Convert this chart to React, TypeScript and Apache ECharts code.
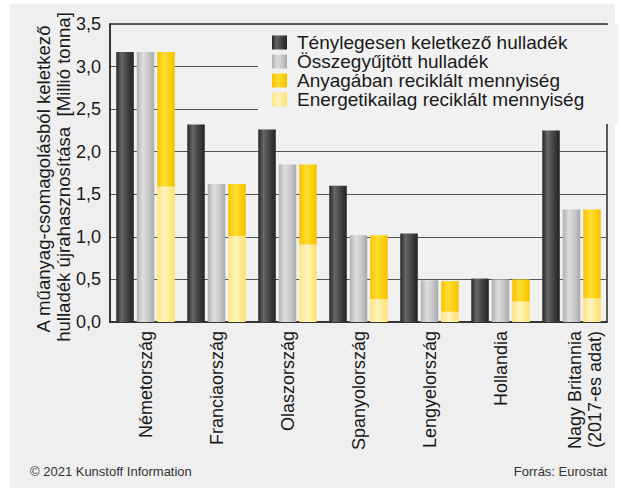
import React, { useEffect, useRef } from 'react';
import * as echarts from 'echarts';

const categories = [
  'Németország',
  'Franciaország',
  'Olaszország',
  'Spanyolország',
  'Lengyelország',
  'Hollandia',
  'Nagy Britannia\n(2017-es adat)',
];
const seriesNames = [
  'Ténylegesen keletkező hulladék',
  'Összegyűjtött hulladék',
  'Anyagában reciklált mennyiség',
  'Energetikailag reciklált mennyiség',
];
const generated = [3.17, 2.32, 2.26, 1.6, 1.04, 0.51, 2.25];
const collected = [3.17, 1.62, 1.85, 1.02, 0.49, 0.5, 1.32];
const materialRecycled = [1.58, 0.61, 0.94, 0.75, 0.36, 0.26, 1.04];
const energyRecycled = [1.59, 1.01, 0.91, 0.27, 0.12, 0.24, 0.28];
const yMin = 0;
const yMax = 3.5;
const yStep = 0.5;
const yTitleLines = ['A műanyag-csomagolásból keletkező', 'hulladék újrahasznosítása  [Millió tonna]'];
const footerLeft = '© 2021 Kunstoff Information';
const footerRight = 'Forrás: Eurostat';

const FONT = 'Liberation Sans, Arial, Helvetica, sans-serif';

const grad = (stops: [number, string][]) =>
  new echarts.graphic.LinearGradient(
    0,
    0,
    1,
    0,
    stops.map(([offset, color]) => ({ offset, color }))
  );

const darkFill = grad([
  [0, '#262626'],
  [0.3, '#666666'],
  [0.6, '#474747'],
  [1, '#232323'],
]);
const grayFill = grad([
  [0, '#b0b0b0'],
  [0.35, '#dedede'],
  [0.7, '#c6c6c6'],
  [1, '#a8a8a8'],
]);
const materialFill = grad([
  [0, '#f6c400'],
  [0.4, '#ffdc33'],
  [0.75, '#fccf0a'],
  [1, '#f2c000'],
]);
const energyFill = grad([
  [0, '#ffe37a'],
  [0.4, '#fff3bf'],
  [0.75, '#ffe98f'],
  [1, '#ffdf6e'],
]);

const formatCategory = (v: any, idx: number) => {
  const s = String(categories[idx] ?? v);
  if (s.indexOf('\n') < 0) return s;
  return '{p|\u00a0}\n' + s.split('\n').map((l) => `{a|${l}}`).join('\n');
};

export default function App() {
  const ref = useRef<HTMLDivElement>(null);

  useEffect(() => {
    if (!ref.current) return;
    const chart = echarts.init(ref.current, undefined, { renderer: 'svg' });
    const barWidth = 17.5;
    const barGap = '17%';
    chart.setOption({
      animation: false,
      backgroundColor: '#ffffff',
      textStyle: { fontFamily: FONT },
      graphic: [
        {
          type: 'rect',
          z: -10,
          shape: { x: 10, y: 4, width: 605, height: 484 },
          style: { fill: '#efefef' },
          silent: true,
        },
        {
          type: 'text',
          x: 43,
          y: 179,
          rotation: Math.PI / 2,
          style: {
            text: yTitleLines[0],
            font: `18.6px ${FONT}`,
            fill: '#1a1a1a',
            align: 'center',
            verticalAlign: 'middle',
          },
        },
        {
          type: 'text',
          x: 63,
          y: 177,
          rotation: Math.PI / 2,
          style: {
            text: yTitleLines[1],
            font: `18.6px ${FONT}`,
            fill: '#1a1a1a',
            align: 'center',
            verticalAlign: 'middle',
          },
        },
        {
          type: 'text',
          x: 30,
          y: 471,
          style: {
            text: footerLeft,
            font: `13px ${FONT}`,
            fill: '#333',
            align: 'left',
            verticalAlign: 'middle',
          },
        },
        {
          type: 'text',
          x: 607,
          y: 471,
          style: {
            text: footerRight,
            font: `13px ${FONT}`,
            fill: '#333',
            align: 'right',
            verticalAlign: 'middle',
          },
        },
      ],
      grid: {
        left: 110,
        right: 14,
        top: 24,
        bottom: 167,
        show: true,
        backgroundColor: '#f1f1f1',
        borderColor: '#2a2a2a',
        borderWidth: 1.5,
        containLabel: false,
      },
      legend: {
        orient: 'vertical',
        left: 258,
        top: 25,
        padding: [8, 34, 15, 14],
        backgroundColor: '#f1f1f1',
        itemGap: 0,
        itemWidth: 15,
        itemHeight: 14,
        icon: 'rect',
        data: [seriesNames[0], seriesNames[1], seriesNames[2], seriesNames[3]],
        textStyle: {
          fontSize: 19,
          lineHeight: 18,
          color: '#1a1a1a',
          fontFamily: FONT,
          padding: [0, 0, 0, 5],
        },
      },
      xAxis: {
        type: 'category',
        data: categories,
        axisLine: { show: true, lineStyle: { color: '#2a2a2a', width: 1.5 } },
        axisTick: { show: false },
        axisLabel: {
          rotate: 90,
          margin: 9,
          fontSize: 18,
          lineHeight: 20,
          color: '#1a1a1a',
          fontFamily: FONT,
          interval: 0,
          hideOverlap: false,
          formatter: formatCategory,
          rich: {
            p: { height: 26, fontSize: 18, lineHeight: 26, fontFamily: FONT },
            a: { fontSize: 18, lineHeight: 20, color: '#1a1a1a', fontFamily: FONT },
          },
        },
      },
      yAxis: {
        type: 'value',
        min: yMin,
        max: yMax,
        interval: yStep,
        axisLine: { show: true, lineStyle: { color: '#2a2a2a', width: 1.5 } },
        axisTick: { show: false },
        splitLine: { show: true, lineStyle: { color: '#555', width: 1 } },
        axisLabel: {
          margin: 9,
          fontSize: 18,
          color: '#1a1a1a',
          fontFamily: FONT,
          formatter: (v: number) => v.toFixed(1).replace('.', ','),
        },
      },
      series: [
        {
          name: seriesNames[0],
          type: 'bar',
          stack: 'gen',
          data: generated,
          barWidth,
          barGap,
          itemStyle: { color: darkFill },
        },
        {
          name: seriesNames[1],
          type: 'bar',
          stack: 'col',
          data: collected,
          barWidth,
          barGap,
          itemStyle: { color: grayFill },
        },
        {
          name: seriesNames[3],
          type: 'bar',
          stack: 'rec',
          data: energyRecycled,
          barWidth,
          barGap,
          itemStyle: { color: energyFill },
        },
        {
          name: seriesNames[2],
          type: 'bar',
          stack: 'rec',
          data: materialRecycled,
          barWidth,
          barGap,
          itemStyle: { color: materialFill },
        },
      ],
    });
    return () => chart.dispose();
  }, []);

  return (
    <div style={{ position: 'fixed', left: 0, top: 0, width: 621, height: 489, background: '#fff' }}>
      <div ref={ref} style={{ width: 621, height: 489 }} />
    </div>
  );
}
